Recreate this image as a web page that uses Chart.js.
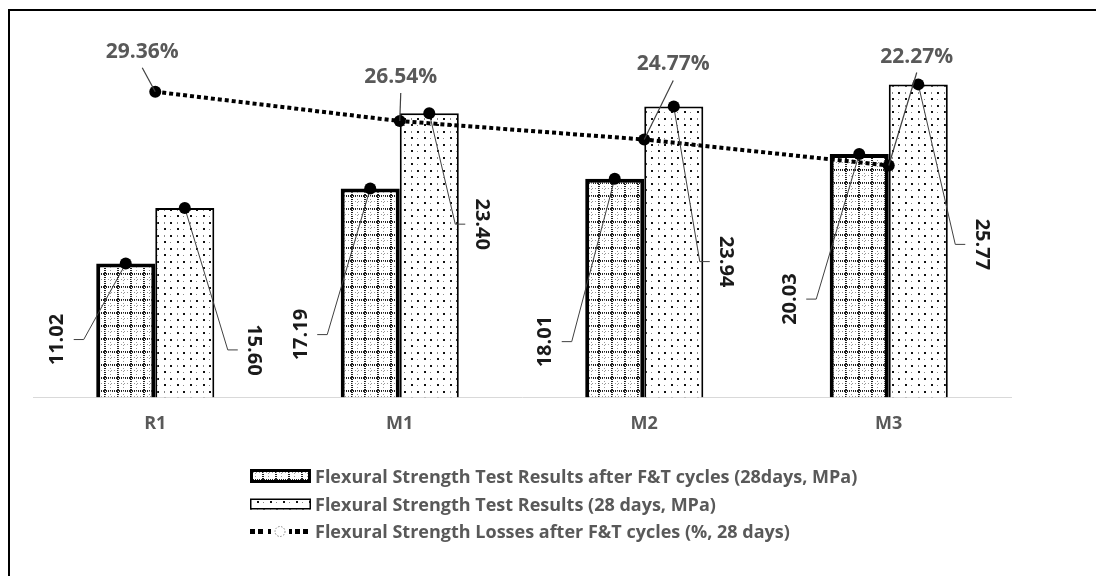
<!DOCTYPE html>
<html>
<head>
  <title>Flexural Strength Results</title>
  <script src="https://cdn.jsdelivr.net/npm/chart.js"></script>
  <style>
    body {
      margin: 0;
      background: white;
      overflow: hidden;
      font-family: "Open Sans", sans-serif;
    }

    .frame {
      position: absolute;
      left: 8px;
      top: 9px;
      width: 1200px;
      height: 700px;
      border: 2px solid black;
    }

    #chart {
      position: absolute;
      left: 0;
      top: 0;
    }

    #legend {
      position: absolute;
      left: 249px;
      top: 462px;
    }

    .row {
      display: flex;
      align-items: center;
      height: 27.7px;
      color: #595959;
      font-weight: bold;
      font-size: 18px;
      white-space: nowrap;
    }

    .row canvas {
      margin-right: 3px;
    }
  </style>
</head>
<body>

  <div class="frame"></div>
  <canvas id="chart" width="1096" height="576"></canvas>
  <div id="legend"></div>

  <script>
    const categories = ["R1", "M1", "M2", "M3"];
    const afterFT = [11.02, 17.19, 18.01, 20.03];
    const days28 = [15.60, 23.40, 23.94, 25.77];
    const losses = [29.36, 26.54, 24.77, 22.27];
    const seriesNames = [
      "Flexural Strength Test Results after F&T cycles (28days, MPa)",
      "Flexural Strength Test Results (28 days, MPa)",
      "Flexural Strength Losses after F&T cycles (%, 28 days)"
    ];

    // where each data label sits, relative to its marker (px)
    const afterFTLabelPos = [[-68, 76], [-69, 146], [-69, 163], [-69, 145]];
    const days28LabelPos = [[69, 142], [52, 111], [52, 155], [63, 160]];
    const lossLabelPos = [[-13, -40], [1, -44], [29, -75], [28, -109]];

    function gridPattern() {
      const c = document.createElement("canvas");
      c.width = 13; c.height = 13;
      const g = c.getContext("2d");
      g.fillStyle = "#fff";
      g.fillRect(0, 0, 13, 13);
      g.fillStyle = "#222";
      for (let i = 0; i < 13; i += 2) {
        g.fillRect(i, 0, 1, 2);
        g.fillRect(0, i, 2, 1);
      }
      g.fillStyle = "#999";
      for (let i = 1; i < 13; i += 3) {
        g.fillRect(i, 6, 1, 1);
        g.fillRect(6, i, 1, 1);
      }
      return g.createPattern(c, "repeat");
    }

    function dotPattern() {
      const c = document.createElement("canvas");
      c.width = 13; c.height = 13;
      const g = c.getContext("2d");
      g.fillStyle = "#fff";
      g.fillRect(0, 0, 13, 13);
      g.fillStyle = "#111";
      g.fillRect(1, 1, 2, 2);
      g.fillRect(8, 7, 2, 2);
      g.fillStyle = "#888";
      g.fillRect(8, 1, 1, 2);
      g.fillRect(1, 8, 1, 1);
      return g.createPattern(c, "repeat");
    }

    const gridFill = gridPattern();
    const dotFill = dotPattern();

    const leaderLabels = {
      id: "leaderLabels",
      afterDatasetsDraw(chart) {
        const ctx = chart.ctx;
        ctx.save();

        // bar labels, rotated, with a marker at the top of each bar
        const barSets = [[afterFT, afterFTLabelPos], [days28, days28LabelPos]];
        barSets.forEach(([vals, pos], di) => {
          chart.getDatasetMeta(di).data.forEach((bar, i) => {
            const [dx, dy] = pos[i];
            const lx = bar.x + dx, ly = bar.y + dy;
            const side = dx < 0 ? 1 : -1;
            ctx.strokeStyle = "#404040";
            ctx.lineWidth = 1;
            ctx.beginPath();
            ctx.moveTo(bar.x, bar.y);
            ctx.lineTo(lx + side * 26, ly);
            ctx.lineTo(lx + side * 16, ly);
            ctx.stroke();

            ctx.fillStyle = "#000";
            ctx.beginPath();
            ctx.arc(bar.x, bar.y, 6, 0, Math.PI * 2);
            ctx.fill();

            ctx.save();
            ctx.translate(lx, ly);
            ctx.rotate(dx < 0 ? -Math.PI / 2 : Math.PI / 2);
            ctx.font = "bold 20px 'Open Sans'";
            ctx.textAlign = "center";
            ctx.textBaseline = "middle";
            ctx.fillStyle = "#1a1a1a";
            ctx.fillText(vals[i].toFixed(2), 0, 0);
            ctx.restore();
          });
        });

        // percentage labels above the line points
        chart.getDatasetMeta(2).data.forEach((pt, i) => {
          const [dx, dy] = lossLabelPos[i];
          const lx = pt.x + dx, ly = pt.y + dy;
          ctx.strokeStyle = "#404040";
          ctx.lineWidth = 1.2;
          ctx.beginPath();
          ctx.moveTo(pt.x, pt.y);
          ctx.lineTo(lx, ly + 16);
          ctx.stroke();

          ctx.font = "bold 21px 'Open Sans'";
          ctx.textAlign = "center";
          ctx.textBaseline = "middle";
          ctx.fillStyle = "#595959";
          ctx.fillText(losses[i].toFixed(2) + "%", lx, ly);
        });

        ctx.restore();
      }
    };

    const ctx = document.getElementById("chart").getContext("2d");
    const chart = new Chart(ctx, {
      type: "bar",
      data: {
        labels: categories,
        datasets: [
          {
            label: seriesNames[0],
            data: afterFT,
            backgroundColor: gridFill,
            borderColor: "#000",
            borderWidth: 4,
            yAxisID: "y",
            order: 2
          },
          {
            label: seriesNames[1],
            data: days28,
            backgroundColor: dotFill,
            borderColor: "#000",
            borderWidth: 2,
            yAxisID: "y",
            order: 2
          },
          {
            type: "line",
            label: seriesNames[2],
            data: losses,
            borderColor: "#000",
            borderWidth: 4,
            borderDash: [4, 3],
            pointRadius: 6,
            pointBackgroundColor: "#000",
            pointBorderWidth: 0,
            tension: 0,
            yAxisID: "y1",
            order: 1
          }
        ]
      },
      options: {
        responsive: false,
        animation: false,
        layout: {
          padding: { left: 33, right: 85, top: 33, bottom: 125 }
        },
        datasets: {
          bar: { categoryPercentage: 0.483, barPercentage: 1 }
        },
        plugins: {
          legend: { display: false },
          tooltip: { enabled: false }
        },
        scales: {
          x: {
            grid: { display: false, drawTicks: false },
            border: { display: true, color: "#d9d9d9", width: 1 },
            ticks: {
              color: "#595959",
              padding: 16,
              font: { family: "Open Sans", size: 18, weight: "bold" }
            }
          },
          y: { display: false, min: 0, max: 30 },
          y1: { display: false, min: 0, max: 35, position: "right" }
        }
      },
      plugins: [leaderLabels]
    });

    // legend built from the datasets
    const legend = document.getElementById("legend");
    chart.data.datasets.forEach((ds, i) => {
      const row = document.createElement("div");
      row.className = "row";
      const icon = document.createElement("canvas");
      icon.width = 63; icon.height = 20;
      const g = icon.getContext("2d");
      if (i < 2) {
        g.fillStyle = ds.backgroundColor;
        const h = i === 0 ? 14 : 11;
        const top = (20 - h) / 2;
        g.fillRect(1, top, 61, h);
        g.strokeStyle = "#000";
        g.lineWidth = i === 0 ? 3 : 1.5;
        g.strokeRect(1 + g.lineWidth / 2, top + g.lineWidth / 2, 61 - g.lineWidth, h - g.lineWidth);
      } else {
        g.fillStyle = "#000";
        [0, 8, 45, 53].forEach(x => g.fillRect(x + 1, 8, 5, 5));
        g.fillRect(40, 8, 3, 5);
        g.fillRect(19, 8, 3, 5);
        g.strokeStyle = "#888";
        g.lineWidth = 1;
        g.setLineDash([1.5, 1.5]);
        g.beginPath();
        g.arc(31, 10.5, 5, 0, Math.PI * 2);
        g.stroke();
      }
      const text = document.createElement("span");
      text.textContent = ds.label;
      row.appendChild(icon);
      row.appendChild(text);
      legend.appendChild(row);
    });
  </script>

</body>
</html>
